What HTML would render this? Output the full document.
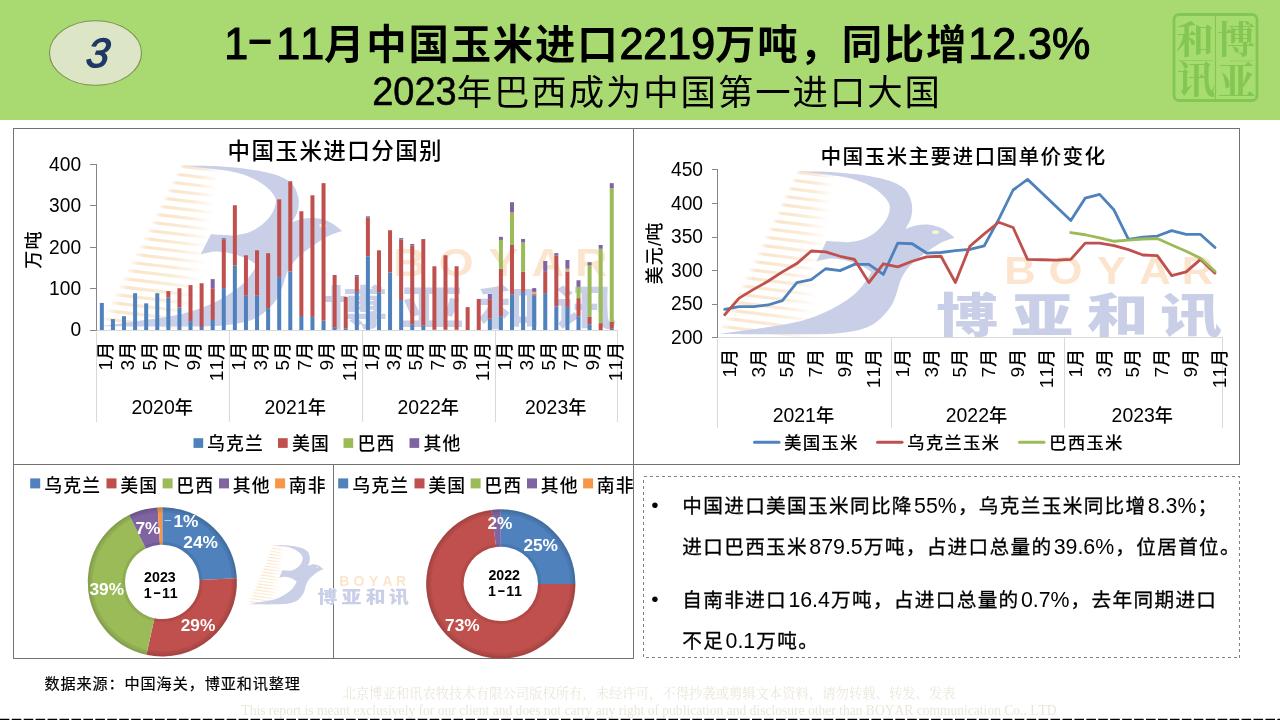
<!DOCTYPE html>
<html lang="zh-CN"><head><meta charset="utf-8"><title>1-11月中国玉米进口2219万吨，同比增12.3%</title>
<style>
html,body{margin:0;padding:0;background:#fff;}
body{font-kerning:none;font-variant-ligatures:none;width:1280px;height:720px;position:relative;overflow:hidden;font-family:"Liberation Sans","Noto Sans CJK SC",sans-serif;color:#000;}
.abs{position:absolute;white-space:nowrap;}
#hdr{left:0;top:0;width:1280px;height:120px;background:#A9DA72;}
#t1{left:276.2px;text-align:left;top:16px;font-size:40.4px;line-height:52px;font-weight:700;letter-spacing:1.8px;font-family:"Noto Sans CJK SC","Liberation Sans",sans-serif;}
#t1 .l{display:inline-block;position:relative;top:0px;font-family:"Liberation Sans",sans-serif;font-weight:400;font-size:43px;line-height:1;letter-spacing:0;transform:scaleY(1.045);transform-origin:0 84.65%;-webkit-text-stroke:1.1px #000;}
#t2{left:17px;width:1280px;text-align:center;top:67px;font-size:35.4px;line-height:46px;letter-spacing:1.93px;font-family:"Noto Sans CJK SC","Liberation Sans",sans-serif;}
#t2 .l{display:inline-block;font-family:"Liberation Sans",sans-serif;font-size:38px;line-height:1;letter-spacing:0;transform:scaleY(1.09);transform-origin:0 84.65%;-webkit-text-stroke:0.5px #000;}
#num{left:49px;top:20px;width:93px;height:66px;text-align:center;line-height:66px;font-size:41px;font-style:italic;font-weight:700;color:#1F3864;}
#chart{left:0;top:0;}
#box{left:643px;top:476px;width:596px;height:181px;box-sizing:border-box;}
#box ul{list-style:none;margin:0;padding:0;}
#box li{position:absolute;left:39.3px;font-size:20.9px;line-height:40.5px;white-space:nowrap;}
#box .n{font-size:21.33px;margin:0 1.1px 0 1.3px;letter-spacing:0;}
#box .c{letter-spacing:1.33px;}
.c{font-family:"Noto Sans CJK SC","Liberation Sans",sans-serif;font-size:0.94em;letter-spacing:0.06em;font-weight:400;-webkit-text-stroke:0.3px #000;}
#box .b{position:absolute;left:-31px;top:0;font-family:"Liberation Sans",sans-serif;font-size:20.9px;}
#src{left:44.5px;top:671px;font-size:16.08px;line-height:22px;}
#src .c{font-weight:400;-webkit-text-stroke:0.2px #000;}
#cp1{left:9px;width:1280px;text-align:center;top:685px;font-size:13.33px;line-height:18px;color:#EAE7DA;font-family:"Liberation Serif","Noto Serif CJK SC",serif;}
#cp2{left:9px;width:1280px;text-align:center;top:701px;font-size:13.55px;line-height:20px;color:#EAE7DA;font-family:"Liberation Serif","Noto Serif CJK SC",serif;}
.dash{display:inline-block;position:relative;top:-6px;font-family:"Liberation Sans",sans-serif;font-size:42.67px;line-height:1;letter-spacing:0;transform:scale(1.95,0.85);margin:0 9.4px 0 4.5px;}
</style></head><body>
<div id="hdr" class="abs"></div>
<div id="t1" class="abs"><span class="l" style="margin-left:-52px">1</span><span class="dash">-</span><span class="l">11</span>月中国玉米进口<span class="l">2219</span>万吨，同比增<span class="l">12.3%</span></div>
<div id="t2" class="abs"><span class="l">2023</span>年巴西成为中国第一进口大国</div>
<svg id="chart" class="abs" width="1280" height="720" viewBox="0 0 1280 720">
<defs>
<linearGradient id="wmst" x1="0" x2="1" y1="0" y2="0"><stop offset="0" stop-color="#F9DDBA" stop-opacity="0.2"/><stop offset="0.1" stop-color="#F9DDBA" stop-opacity="0.75"/><stop offset="0.55" stop-color="#F9DDBA" stop-opacity="0.6"/><stop offset="1" stop-color="#F9DDBA" stop-opacity="0"/></linearGradient>
<radialGradient id="bev" gradientUnits="objectBoundingBox" cx="0.5" cy="0.5" r="0.5"><stop offset="0.49" stop-color="#000" stop-opacity="0.10"/><stop offset="0.54" stop-color="#fff" stop-opacity="0.06"/><stop offset="0.75" stop-color="#fff" stop-opacity="0"/><stop offset="0.95" stop-color="#000" stop-opacity="0.02"/><stop offset="1" stop-color="#000" stop-opacity="0.16"/></radialGradient>
<symbol id="wm" viewBox="0 0 161 60" preserveAspectRatio="none" overflow="visible">
<g><rect x="25" y="-0.07" width="12.5" height="1.15" fill="url(#wmst)" transform="rotate(8 25 0.5)"/><rect x="23.74" y="2.88" width="13.39" height="1.15" fill="url(#wmst)" transform="rotate(8 23.74 3.45)"/><rect x="22.47" y="5.84" width="14.27" height="1.15" fill="url(#wmst)" transform="rotate(8 22.47 6.41)"/><rect x="21.21" y="8.79" width="15.16" height="1.15" fill="url(#wmst)" transform="rotate(8 21.21 9.36)"/><rect x="19.95" y="11.74" width="16.04" height="1.15" fill="url(#wmst)" transform="rotate(8 19.95 12.31)"/><rect x="18.68" y="14.69" width="16.93" height="1.15" fill="url(#wmst)" transform="rotate(8 18.68 15.26)"/><rect x="17.42" y="17.65" width="17.81" height="1.15" fill="url(#wmst)" transform="rotate(8 17.42 18.22)"/><rect x="16.16" y="20.6" width="18.7" height="1.15" fill="url(#wmst)" transform="rotate(8 16.16 21.17)"/><rect x="14.89" y="23.55" width="19.59" height="1.15" fill="url(#wmst)" transform="rotate(8 14.89 24.12)"/><rect x="13.63" y="26.5" width="20.47" height="1.15" fill="url(#wmst)" transform="rotate(8 13.63 27.07)"/><rect x="12.37" y="29.46" width="21.36" height="1.15" fill="url(#wmst)" transform="rotate(8 12.37 30.03)"/><rect x="11.11" y="32.41" width="22.24" height="1.15" fill="url(#wmst)" transform="rotate(8 11.11 32.98)"/><rect x="9.84" y="35.36" width="23.13" height="1.15" fill="url(#wmst)" transform="rotate(8 9.84 35.93)"/><rect x="8.58" y="38.31" width="24.02" height="1.15" fill="url(#wmst)" transform="rotate(8 8.58 38.88)"/><rect x="7.32" y="41.27" width="24.9" height="1.15" fill="url(#wmst)" transform="rotate(8 7.32 41.84)"/><rect x="6.05" y="44.22" width="25.79" height="1.15" fill="url(#wmst)" transform="rotate(8 6.05 44.79)"/><rect x="4.79" y="47.17" width="26.67" height="1.15" fill="url(#wmst)" transform="rotate(8 4.79 47.74)"/><rect x="3.53" y="50.12" width="27.56" height="1.15" fill="url(#wmst)" transform="rotate(8 3.53 50.69)"/><rect x="2.26" y="53.08" width="28.44" height="1.15" fill="url(#wmst)" transform="rotate(8 2.26 53.65)"/><rect x="1" y="56.03" width="29.33" height="1.15" fill="url(#wmst)" transform="rotate(8 1 56.6)"/></g>
<path d="M25.82,0.29 C27.45,0.31 32.53,0.24 35.58,0.4 C38.62,0.56 41.4,0.88 44.09,1.27 C46.78,1.66 49.61,2.16 51.74,2.73 C53.86,3.29 55.44,3.85 56.86,4.65 C58.27,5.46 59.42,6.28 60.25,7.56 C61.08,8.85 61.63,10.76 61.85,12.36 C62.06,13.97 61.86,15.75 61.53,17.2 C61.19,18.65 60.11,20.44 59.83,21.09 C60.4,20.88 61.95,20.1 63.22,19.85 C64.5,19.61 66.06,19.43 67.48,19.64 C68.89,19.84 70.36,20.3 71.7,21.09 C73.05,21.88 74.9,23.82 75.54,24.36 C74.9,24.62 73.05,25.15 71.7,25.89 C70.36,26.63 69.08,27.53 67.48,28.8 C65.88,30.07 63.57,31.87 62.1,33.53 C60.63,35.18 59.51,36.88 58.65,38.73 C57.78,40.58 57.5,42.87 56.92,44.62 C56.34,46.36 56.06,47.67 55.19,49.2 C54.33,50.73 53.07,52.47 51.74,53.78 C50.4,55.09 49.27,56.19 47.16,57.05 C45.05,57.92 42.36,58.58 39.1,58.98 C35.83,59.38 34.1,59.39 27.58,59.45 C21.06,59.52 4.6,59.36 0,59.35 C1.73,59.07 6.72,58.31 10.37,57.71 C14.01,57.11 18.5,56.51 21.85,55.75 C25.2,54.98 27.78,54.22 30.46,53.13 C33.14,52.04 35.74,50.62 37.95,49.2 C40.15,47.78 42.17,46.14 43.71,44.62 C45.24,43.1 46.3,41.38 47.16,40.07 C48.02,38.77 48.57,37.35 48.86,36.8 C48.36,36.44 47.12,35.28 45.88,34.62 C44.64,33.95 43,33.25 41.4,32.8 C39.8,32.35 37.96,31.88 36.28,31.89 C34.6,31.9 32.15,32.71 31.32,32.87 L34.52,25.53 C35.06,25.56 36.48,25.68 37.72,25.75 C38.96,25.81 40.49,26.07 41.98,25.89 C43.47,25.72 45.24,25.33 46.65,24.69 C48.06,24.05 49.33,23.12 50.46,22.04 C51.59,20.95 52.72,19.47 53.43,18.18 C54.14,16.9 54.57,15.45 54.71,14.33 C54.86,13.2 54.79,12.47 54.3,11.42 C53.8,10.37 52.87,9.12 51.74,8.04 C50.6,6.95 49.11,5.79 47.48,4.91 C45.85,4.02 43.96,3.29 41.98,2.73 C39.99,2.16 38.27,1.93 35.58,1.53 C32.89,1.12 27.45,0.5 25.82,0.29 Z" fill="#C8CFE7"/>
<ellipse cx="69.4" cy="22.3" rx="1.1" ry="0.7" fill="#F3F6D0"/>
<g transform="scale(0.14843) translate(-80,-100)">
<text y="376.7" x="695.8 791.4 895.9 986.8 1078.4" font-family='"Liberation Sans",sans-serif' font-weight="700" font-size="94" fill="#FBE5CE">BOYAR</text>
<g transform="scale(1.17,1)"><text y="495.5" x="469.23 607.35 746.67 881.45" font-family='"Noto Sans CJK SC","Liberation Sans",sans-serif' font-weight="900" font-size="114" fill="#C8CFE7">博亚和讯</text></g>
</g></symbol>
</defs>
<ellipse cx="95.5" cy="53" rx="46" ry="32.3" fill="#DCE6C7" stroke="#7F9050" stroke-width="1.1"/>
<text transform="translate(96.3,67.3) skewX(-8)" text-anchor="middle" font-family='"Liberation Sans",sans-serif' font-style="italic" font-weight="400" font-size="41" fill="#1F3864" stroke="#1F3864" stroke-width="1.3" stroke-linejoin="round">3</text>
<g>
<rect x="1174" y="14.5" width="83" height="86" rx="5" ry="5" fill="#A6E070" fill-opacity="0.55" stroke="#84C653" stroke-width="2.8"/>
<path d="M1215.5,15 V100" stroke="#84C653" stroke-width="1.2" fill="none"/>
<path d="M1178,60.5 H1213 M1230,61 H1253" stroke="#84C653" stroke-width="0.8" fill="none" opacity="0.8"/>
<g font-family='"Noto Serif CJK SC","Liberation Serif",serif' font-weight="700" font-size="38" fill="#84C653" text-anchor="middle">
<text x="1195" y="53">和</text><text x="1196" y="92.5">讯</text><text x="1236" y="53">博</text><text x="1236.5" y="93.5">亚</text>
</g></g>
<g fill="none" stroke="#727272" stroke-width="1" shape-rendering="crispEdges">
<rect x="13.5" y="128.5" width="1226" height="336"/>
<path d="M633.5,128.5 V658.5 M13.5,464.5 V658.5 H633.5 M333.5,464.5 V658.5"/>
<rect x="643.5" y="476.5" width="596" height="181" stroke="#808080" stroke-dasharray="3 3"/>
</g>
<use href="#wm" x="100.3" y="164.9" width="516" height="163"/>
<rect x="99.84" y="302.94" width="4" height="27.36" fill="#4F81BD"/>
<rect x="110.93" y="319.11" width="4" height="11.19" fill="#4F81BD"/>
<rect x="122.01" y="316.21" width="4" height="14.09" fill="#4F81BD"/>
<rect x="133.1" y="293.2" width="4" height="37.1" fill="#4F81BD"/>
<rect x="144.18" y="303.36" width="4" height="26.94" fill="#4F81BD"/>
<rect x="155.27" y="293.2" width="4" height="37.1" fill="#4F81BD"/>
<rect x="166.35" y="297.55" width="4" height="32.75" fill="#4F81BD"/>
<rect x="166.35" y="291.09" width="4" height="6.47" fill="#C0504D"/>
<rect x="177.44" y="307.5" width="4" height="22.8" fill="#4F81BD"/>
<rect x="177.44" y="288.23" width="4" height="19.27" fill="#C0504D"/>
<rect x="188.52" y="321.18" width="4" height="9.12" fill="#4F81BD"/>
<rect x="188.52" y="285.12" width="4" height="36.06" fill="#C0504D"/>
<rect x="199.61" y="326.98" width="4" height="3.32" fill="#4F81BD"/>
<rect x="199.61" y="283.25" width="4" height="43.73" fill="#C0504D"/>
<rect x="210.69" y="319.94" width="4" height="10.36" fill="#4F81BD"/>
<rect x="210.69" y="288.23" width="4" height="31.71" fill="#C0504D"/>
<rect x="210.69" y="279.11" width="4" height="9.12" fill="#8064A2"/>
<rect x="221.78" y="288.1" width="4" height="42.2" fill="#4F81BD"/>
<rect x="221.78" y="239.52" width="4" height="48.58" fill="#C0504D"/>
<rect x="221.78" y="238.12" width="4" height="1.41" fill="#8064A2"/>
<rect x="232.86" y="265.64" width="4" height="64.66" fill="#4F81BD"/>
<rect x="232.86" y="205.25" width="4" height="60.39" fill="#C0504D"/>
<rect x="243.95" y="295.61" width="4" height="34.69" fill="#4F81BD"/>
<rect x="243.95" y="255.28" width="4" height="40.33" fill="#C0504D"/>
<rect x="255.03" y="295.61" width="4" height="34.69" fill="#4F81BD"/>
<rect x="255.03" y="250.3" width="4" height="45.3" fill="#C0504D"/>
<rect x="266.12" y="308.12" width="4" height="22.18" fill="#4F81BD"/>
<rect x="266.12" y="253.2" width="4" height="54.92" fill="#C0504D"/>
<rect x="277.2" y="276.83" width="4" height="53.47" fill="#4F81BD"/>
<rect x="277.2" y="199.36" width="4" height="77.47" fill="#C0504D"/>
<rect x="288.29" y="271.44" width="4" height="58.86" fill="#4F81BD"/>
<rect x="288.29" y="181.25" width="4" height="90.2" fill="#C0504D"/>
<rect x="299.37" y="316" width="4" height="14.3" fill="#4F81BD"/>
<rect x="299.37" y="211.26" width="4" height="104.74" fill="#C0504D"/>
<rect x="310.46" y="316.87" width="4" height="13.43" fill="#4F81BD"/>
<rect x="310.46" y="195.26" width="4" height="121.61" fill="#C0504D"/>
<rect x="321.54" y="320.64" width="4" height="9.66" fill="#4F81BD"/>
<rect x="321.54" y="183.15" width="4" height="137.49" fill="#C0504D"/>
<rect x="332.63" y="327.48" width="4" height="2.82" fill="#4F81BD"/>
<rect x="332.63" y="275.01" width="4" height="52.48" fill="#C0504D"/>
<rect x="343.71" y="328.23" width="4" height="2.07" fill="#4F81BD"/>
<rect x="343.71" y="296.89" width="4" height="31.34" fill="#C0504D"/>
<rect x="354.8" y="291.88" width="4" height="38.42" fill="#4F81BD"/>
<rect x="354.8" y="276.83" width="4" height="15.05" fill="#C0504D"/>
<rect x="354.8" y="275.01" width="4" height="1.82" fill="#8064A2"/>
<rect x="365.89" y="256.27" width="4" height="74.03" fill="#4F81BD"/>
<rect x="365.89" y="217.56" width="4" height="38.71" fill="#C0504D"/>
<rect x="365.89" y="216.31" width="4" height="1.24" fill="#8064A2"/>
<rect x="376.97" y="292.25" width="4" height="38.05" fill="#4F81BD"/>
<rect x="376.97" y="250.3" width="4" height="41.95" fill="#C0504D"/>
<rect x="388.06" y="272.52" width="4" height="57.78" fill="#4F81BD"/>
<rect x="388.06" y="230.24" width="4" height="42.28" fill="#C0504D"/>
<rect x="399.14" y="300.04" width="4" height="30.26" fill="#4F81BD"/>
<rect x="399.14" y="239.52" width="4" height="60.52" fill="#C0504D"/>
<rect x="399.14" y="238.12" width="4" height="1.41" fill="#8064A2"/>
<rect x="410.23" y="324.37" width="4" height="5.93" fill="#4F81BD"/>
<rect x="410.23" y="245.33" width="4" height="79.05" fill="#C0504D"/>
<rect x="410.23" y="244" width="4" height="1.33" fill="#8064A2"/>
<rect x="421.31" y="325.62" width="4" height="4.68" fill="#4F81BD"/>
<rect x="421.31" y="239.94" width="4" height="85.68" fill="#C0504D"/>
<rect x="421.31" y="238.99" width="4" height="0.95" fill="#8064A2"/>
<rect x="432.4" y="329.68" width="4" height="0.62" fill="#4F81BD"/>
<rect x="432.4" y="266.26" width="4" height="63.42" fill="#C0504D"/>
<rect x="443.48" y="329.68" width="4" height="0.62" fill="#4F81BD"/>
<rect x="443.48" y="255.28" width="4" height="74.4" fill="#C0504D"/>
<rect x="454.57" y="329.68" width="4" height="0.62" fill="#4F81BD"/>
<rect x="454.57" y="266.26" width="4" height="63.42" fill="#C0504D"/>
<rect x="465.65" y="307.13" width="4" height="23.17" fill="#C0504D"/>
<rect x="476.74" y="299.01" width="4" height="31.29" fill="#C0504D"/>
<rect x="487.82" y="318.74" width="4" height="11.56" fill="#4F81BD"/>
<rect x="487.82" y="299.21" width="4" height="19.52" fill="#C0504D"/>
<rect x="487.82" y="293.99" width="4" height="5.22" fill="#8064A2"/>
<rect x="498.91" y="316.21" width="4" height="14.09" fill="#4F81BD"/>
<rect x="498.91" y="268.75" width="4" height="47.46" fill="#C0504D"/>
<rect x="498.91" y="239.94" width="4" height="28.81" fill="#9BBB59"/>
<rect x="498.91" y="236.87" width="4" height="3.07" fill="#8064A2"/>
<rect x="509.99" y="294.36" width="4" height="35.94" fill="#4F81BD"/>
<rect x="509.99" y="245" width="4" height="49.37" fill="#C0504D"/>
<rect x="509.99" y="212.58" width="4" height="32.41" fill="#9BBB59"/>
<rect x="509.99" y="202.22" width="4" height="10.36" fill="#8064A2"/>
<rect x="521.08" y="291.88" width="4" height="38.42" fill="#4F81BD"/>
<rect x="521.08" y="271.86" width="4" height="20.02" fill="#C0504D"/>
<rect x="521.08" y="242.51" width="4" height="29.35" fill="#9BBB59"/>
<rect x="521.08" y="238.99" width="4" height="3.52" fill="#8064A2"/>
<rect x="532.16" y="295.48" width="4" height="34.82" fill="#4F81BD"/>
<rect x="532.16" y="294.24" width="4" height="1.24" fill="#C0504D"/>
<rect x="532.16" y="291.88" width="4" height="2.36" fill="#D9B57A"/>
<rect x="532.16" y="288.1" width="4" height="3.77" fill="#8064A2"/>
<rect x="543.25" y="293.12" width="4" height="37.18" fill="#4F81BD"/>
<rect x="543.25" y="271.86" width="4" height="21.26" fill="#C0504D"/>
<rect x="543.25" y="261" width="4" height="10.86" fill="#8064A2"/>
<rect x="554.33" y="306.26" width="4" height="24.04" fill="#4F81BD"/>
<rect x="554.33" y="255.69" width="4" height="50.57" fill="#C0504D"/>
<rect x="554.33" y="253.12" width="4" height="2.57" fill="#8064A2"/>
<rect x="565.42" y="306.88" width="4" height="23.42" fill="#4F81BD"/>
<rect x="565.42" y="271.48" width="4" height="35.4" fill="#C0504D"/>
<rect x="565.42" y="268.75" width="4" height="2.74" fill="#D9B57A"/>
<rect x="565.42" y="260" width="4" height="8.75" fill="#8064A2"/>
<rect x="576.5" y="316.21" width="4" height="14.09" fill="#4F81BD"/>
<rect x="576.5" y="298.13" width="4" height="18.07" fill="#C0504D"/>
<rect x="576.5" y="286.86" width="4" height="11.27" fill="#9BBB59"/>
<rect x="576.5" y="280.27" width="4" height="6.59" fill="#8064A2"/>
<rect x="587.59" y="324.37" width="4" height="5.93" fill="#4F81BD"/>
<rect x="587.59" y="316.87" width="4" height="7.5" fill="#C0504D"/>
<rect x="587.59" y="265.02" width="4" height="51.85" fill="#9BBB59"/>
<rect x="587.59" y="262.24" width="4" height="2.78" fill="#8064A2"/>
<rect x="598.67" y="323.13" width="4" height="7.17" fill="#C0504D"/>
<rect x="598.67" y="248.77" width="4" height="74.36" fill="#9BBB59"/>
<rect x="598.67" y="245" width="4" height="3.77" fill="#8064A2"/>
<rect x="609.76" y="328.77" width="4" height="1.53" fill="#4F81BD"/>
<rect x="609.76" y="321.89" width="4" height="6.88" fill="#C0504D"/>
<rect x="609.76" y="188.13" width="4" height="133.76" fill="#9BBB59"/>
<rect x="609.76" y="183.15" width="4" height="4.97" fill="#8064A2"/>
<g stroke="#868686" stroke-width="1" fill="none" shape-rendering="crispEdges">
<path d="M96.5,164.5 V330.5 M90,164.5 H96.5 M90,205.5 H96.5 M90,247.5 H96.5 M90,288.5 H96.5 M90,330.5 H96.5"/>
</g>
<g stroke="#D9D9D9" stroke-width="1" fill="none" shape-rendering="crispEdges">
<path d="M96.5,330.5 H617.5 M229.5,330.5 V421.5 M362.5,330.5 V421.5 M495.5,330.5 V421.5 M617.5,330.5 V421.5 M96.5,331.5 V421.5"/>
</g>
<g font-family='"Liberation Sans",sans-serif' font-size="19.2" fill="#000" text-anchor="end">
<text transform="translate(81.1,170.6) scale(1,1.07)">400</text>
<text transform="translate(81.1,212) scale(1,1.07)">300</text>
<text transform="translate(81.1,253.5) scale(1,1.07)">200</text>
<text transform="translate(81.1,295) scale(1,1.07)">100</text>
<text transform="translate(81.1,336.4) scale(1,1.07)">0</text>
</g>
<text transform="translate(40.2,249.5) rotate(-90)" text-anchor="middle" fill="#000"><tspan font-family='"Noto Sans CJK SC","Liberation Sans",sans-serif' font-weight="500" font-size="18.05" letter-spacing="1.15">万吨</tspan></text>
<g font-family='"Liberation Sans","Noto Sans CJK SC",sans-serif' font-size="18.67" fill="#000" text-anchor="end">
<text transform="translate(111.74,340.7) rotate(-90)"><tspan font-family='"Liberation Sans",sans-serif' font-size="19.2">1</tspan><tspan font-family='"Noto Sans CJK SC","Liberation Sans",sans-serif' font-weight="500" font-size="18.05" letter-spacing="1.15">月</tspan></text>
<text transform="translate(133.91,340.7) rotate(-90)"><tspan font-family='"Liberation Sans",sans-serif' font-size="19.2">3</tspan><tspan font-family='"Noto Sans CJK SC","Liberation Sans",sans-serif' font-weight="500" font-size="18.05" letter-spacing="1.15">月</tspan></text>
<text transform="translate(156.08,340.7) rotate(-90)"><tspan font-family='"Liberation Sans",sans-serif' font-size="19.2">5</tspan><tspan font-family='"Noto Sans CJK SC","Liberation Sans",sans-serif' font-weight="500" font-size="18.05" letter-spacing="1.15">月</tspan></text>
<text transform="translate(178.25,340.7) rotate(-90)"><tspan font-family='"Liberation Sans",sans-serif' font-size="19.2">7</tspan><tspan font-family='"Noto Sans CJK SC","Liberation Sans",sans-serif' font-weight="500" font-size="18.05" letter-spacing="1.15">月</tspan></text>
<text transform="translate(200.42,340.7) rotate(-90)"><tspan font-family='"Liberation Sans",sans-serif' font-size="19.2">9</tspan><tspan font-family='"Noto Sans CJK SC","Liberation Sans",sans-serif' font-weight="500" font-size="18.05" letter-spacing="1.15">月</tspan></text>
<text transform="translate(222.59,340.7) rotate(-90)"><tspan font-family='"Liberation Sans",sans-serif' font-size="19.2">11</tspan><tspan font-family='"Noto Sans CJK SC","Liberation Sans",sans-serif' font-weight="500" font-size="18.05" letter-spacing="1.15">月</tspan></text>
<text transform="translate(244.76,340.7) rotate(-90)"><tspan font-family='"Liberation Sans",sans-serif' font-size="19.2">1</tspan><tspan font-family='"Noto Sans CJK SC","Liberation Sans",sans-serif' font-weight="500" font-size="18.05" letter-spacing="1.15">月</tspan></text>
<text transform="translate(266.93,340.7) rotate(-90)"><tspan font-family='"Liberation Sans",sans-serif' font-size="19.2">3</tspan><tspan font-family='"Noto Sans CJK SC","Liberation Sans",sans-serif' font-weight="500" font-size="18.05" letter-spacing="1.15">月</tspan></text>
<text transform="translate(289.1,340.7) rotate(-90)"><tspan font-family='"Liberation Sans",sans-serif' font-size="19.2">5</tspan><tspan font-family='"Noto Sans CJK SC","Liberation Sans",sans-serif' font-weight="500" font-size="18.05" letter-spacing="1.15">月</tspan></text>
<text transform="translate(311.27,340.7) rotate(-90)"><tspan font-family='"Liberation Sans",sans-serif' font-size="19.2">7</tspan><tspan font-family='"Noto Sans CJK SC","Liberation Sans",sans-serif' font-weight="500" font-size="18.05" letter-spacing="1.15">月</tspan></text>
<text transform="translate(333.44,340.7) rotate(-90)"><tspan font-family='"Liberation Sans",sans-serif' font-size="19.2">9</tspan><tspan font-family='"Noto Sans CJK SC","Liberation Sans",sans-serif' font-weight="500" font-size="18.05" letter-spacing="1.15">月</tspan></text>
<text transform="translate(355.61,340.7) rotate(-90)"><tspan font-family='"Liberation Sans",sans-serif' font-size="19.2">11</tspan><tspan font-family='"Noto Sans CJK SC","Liberation Sans",sans-serif' font-weight="500" font-size="18.05" letter-spacing="1.15">月</tspan></text>
<text transform="translate(377.79,340.7) rotate(-90)"><tspan font-family='"Liberation Sans",sans-serif' font-size="19.2">1</tspan><tspan font-family='"Noto Sans CJK SC","Liberation Sans",sans-serif' font-weight="500" font-size="18.05" letter-spacing="1.15">月</tspan></text>
<text transform="translate(399.96,340.7) rotate(-90)"><tspan font-family='"Liberation Sans",sans-serif' font-size="19.2">3</tspan><tspan font-family='"Noto Sans CJK SC","Liberation Sans",sans-serif' font-weight="500" font-size="18.05" letter-spacing="1.15">月</tspan></text>
<text transform="translate(422.13,340.7) rotate(-90)"><tspan font-family='"Liberation Sans",sans-serif' font-size="19.2">5</tspan><tspan font-family='"Noto Sans CJK SC","Liberation Sans",sans-serif' font-weight="500" font-size="18.05" letter-spacing="1.15">月</tspan></text>
<text transform="translate(444.3,340.7) rotate(-90)"><tspan font-family='"Liberation Sans",sans-serif' font-size="19.2">7</tspan><tspan font-family='"Noto Sans CJK SC","Liberation Sans",sans-serif' font-weight="500" font-size="18.05" letter-spacing="1.15">月</tspan></text>
<text transform="translate(466.47,340.7) rotate(-90)"><tspan font-family='"Liberation Sans",sans-serif' font-size="19.2">9</tspan><tspan font-family='"Noto Sans CJK SC","Liberation Sans",sans-serif' font-weight="500" font-size="18.05" letter-spacing="1.15">月</tspan></text>
<text transform="translate(488.64,340.7) rotate(-90)"><tspan font-family='"Liberation Sans",sans-serif' font-size="19.2">11</tspan><tspan font-family='"Noto Sans CJK SC","Liberation Sans",sans-serif' font-weight="500" font-size="18.05" letter-spacing="1.15">月</tspan></text>
<text transform="translate(510.81,340.7) rotate(-90)"><tspan font-family='"Liberation Sans",sans-serif' font-size="19.2">1</tspan><tspan font-family='"Noto Sans CJK SC","Liberation Sans",sans-serif' font-weight="500" font-size="18.05" letter-spacing="1.15">月</tspan></text>
<text transform="translate(532.98,340.7) rotate(-90)"><tspan font-family='"Liberation Sans",sans-serif' font-size="19.2">3</tspan><tspan font-family='"Noto Sans CJK SC","Liberation Sans",sans-serif' font-weight="500" font-size="18.05" letter-spacing="1.15">月</tspan></text>
<text transform="translate(555.15,340.7) rotate(-90)"><tspan font-family='"Liberation Sans",sans-serif' font-size="19.2">5</tspan><tspan font-family='"Noto Sans CJK SC","Liberation Sans",sans-serif' font-weight="500" font-size="18.05" letter-spacing="1.15">月</tspan></text>
<text transform="translate(577.32,340.7) rotate(-90)"><tspan font-family='"Liberation Sans",sans-serif' font-size="19.2">7</tspan><tspan font-family='"Noto Sans CJK SC","Liberation Sans",sans-serif' font-weight="500" font-size="18.05" letter-spacing="1.15">月</tspan></text>
<text transform="translate(599.49,340.7) rotate(-90)"><tspan font-family='"Liberation Sans",sans-serif' font-size="19.2">9</tspan><tspan font-family='"Noto Sans CJK SC","Liberation Sans",sans-serif' font-weight="500" font-size="18.05" letter-spacing="1.15">月</tspan></text>
<text transform="translate(621.66,340.7) rotate(-90)"><tspan font-family='"Liberation Sans",sans-serif' font-size="19.2">11</tspan><tspan font-family='"Noto Sans CJK SC","Liberation Sans",sans-serif' font-weight="500" font-size="18.05" letter-spacing="1.15">月</tspan></text>
</g>
<g font-family='"Liberation Sans","Noto Sans CJK SC",sans-serif' font-size="19.4" fill="#000" text-anchor="middle">
<text x="162.81" y="413.5"><tspan font-family='"Liberation Sans",sans-serif' font-size="19.4">2020</tspan><tspan font-family='"Noto Sans CJK SC","Liberation Sans",sans-serif' font-weight="500" font-size="18.24" letter-spacing="1.16">年</tspan></text>
<text x="295.83" y="413.5"><tspan font-family='"Liberation Sans",sans-serif' font-size="19.4">2021</tspan><tspan font-family='"Noto Sans CJK SC","Liberation Sans",sans-serif' font-weight="500" font-size="18.24" letter-spacing="1.16">年</tspan></text>
<text x="428.85" y="413.5"><tspan font-family='"Liberation Sans",sans-serif' font-size="19.4">2022</tspan><tspan font-family='"Noto Sans CJK SC","Liberation Sans",sans-serif' font-weight="500" font-size="18.24" letter-spacing="1.16">年</tspan></text>
<text x="556.33" y="413.5"><tspan font-family='"Liberation Sans",sans-serif' font-size="19.4">2023</tspan><tspan font-family='"Noto Sans CJK SC","Liberation Sans",sans-serif' font-weight="500" font-size="18.24" letter-spacing="1.16">年</tspan></text>
</g>
<text x="335.3" y="158.7" text-anchor="middle" fill="#000"><tspan font-family='"Noto Sans CJK SC","Liberation Sans",sans-serif' font-weight="500" font-size="22.51" letter-spacing="1.44">中国玉米进口分国别</tspan></text>
<g font-family='"Liberation Sans","Noto Sans CJK SC",sans-serif' font-size="18.67" fill="#000">
<rect x="193.5" y="438.2" width="9.7" height="9.7" fill="#4F81BD"/>
<text x="207" y="449.6"><tspan font-family='"Noto Sans CJK SC","Liberation Sans",sans-serif' font-weight="500" font-size="17.86" letter-spacing="1.14">乌克兰</tspan></text>
<rect x="278" y="438.2" width="9.7" height="9.7" fill="#C0504D"/>
<text x="292" y="449.6"><tspan font-family='"Noto Sans CJK SC","Liberation Sans",sans-serif' font-weight="500" font-size="17.86" letter-spacing="1.14">美国</tspan></text>
<rect x="343.5" y="438.2" width="9.7" height="9.7" fill="#9BBB59"/>
<text x="357.5" y="449.6"><tspan font-family='"Noto Sans CJK SC","Liberation Sans",sans-serif' font-weight="500" font-size="17.86" letter-spacing="1.14">巴西</tspan></text>
<rect x="409.5" y="438.2" width="9.7" height="9.7" fill="#8064A2"/>
<text x="423.5" y="449.6"><tspan font-family='"Noto Sans CJK SC","Liberation Sans",sans-serif' font-weight="500" font-size="17.86" letter-spacing="1.14">其他</tspan></text>
</g>
<use href="#wm" x="718.6" y="170.8" width="503.2" height="165"/>
<g stroke="#868686" stroke-width="1" fill="none" shape-rendering="crispEdges">
<path d="M717.5,169.5 V337.5 M712,169.5 H717.5 M712,203.5 H717.5 M712,237.5 H717.5 M712,270.5 H717.5 M712,304.5 H717.5 M712,337.5 H717.5"/>
</g>
<g stroke="#D9D9D9" stroke-width="1" fill="none" shape-rendering="crispEdges">
<path d="M717.5,337.5 H1222.5 M891.5,337.5 V427.5 M1064.5,337.5 V427.5 M1222.5,337.5 V427.5 M717.5,338.5 V427.5"/>
</g>
<polyline points="724.71,309.41 739.13,306.59 753.55,306.59 767.97,304.98 782.39,300.54 796.81,282.73 811.23,279.71 825.65,268.75 840.07,270.64 854.49,264.39 868.91,264.39 883.33,274.4 897.75,243.15 912.17,243.76 926.59,253.03 941.01,252.49 955.43,250.61 969.85,249.47 984.27,245.77 998.69,219.36 1013.11,190 1027.53,179.38 1041.95,193.09 1056.37,206.86 1070.79,220.57 1085.21,198.13 1099.63,194.36 1114.05,210.02 1128.47,239.39 1142.89,237.24 1157.31,236.03 1171.73,230.65 1186.15,234.42 1200.57,234.42 1214.99,247.52" fill="none" stroke="#4F81BD" stroke-width="2.8" stroke-linejoin="round" stroke-linecap="round"/>
<polyline points="724.71,314.72 739.13,298.12 753.55,289.38 767.97,281.25 782.39,271.91 796.81,263.58 811.23,251.01 825.65,251.89 840.07,256.26 854.49,259.41 868.91,282.53 883.33,263.78 897.75,266.87 912.17,261.23 926.59,256.86 941.01,256.26 955.43,282.53 969.85,246.24 984.27,233.88 998.69,222.25 1013.11,227.49 1027.53,259.41 1041.95,259.75 1056.37,260.22 1070.79,259.41 1085.21,243.15 1099.63,243.15 1114.05,245.64 1128.47,249.67 1142.89,254.98 1157.31,255.65 1171.73,275.68 1186.15,271.91 1200.57,259.41 1214.99,273.12" fill="none" stroke="#C0504D" stroke-width="2.8" stroke-linejoin="round" stroke-linecap="round"/>
<polyline points="1070.79,232.53 1085.21,234.75 1099.63,237.78 1114.05,241.27 1128.47,240.06 1142.89,238.98 1157.31,238.51 1171.73,245.03 1186.15,251.28 1200.57,258.2 1214.99,271.24" fill="none" stroke="#9BBB59" stroke-width="2.8" stroke-linejoin="round" stroke-linecap="round"/>
<g font-family='"Liberation Sans",sans-serif' font-size="19.2" fill="#000" text-anchor="end">
<text transform="translate(703,176) scale(1,1.07)">450</text>
<text transform="translate(703,209.6) scale(1,1.07)">400</text>
<text transform="translate(703,243.2) scale(1,1.07)">350</text>
<text transform="translate(703,276.8) scale(1,1.07)">300</text>
<text transform="translate(703,310.4) scale(1,1.07)">250</text>
<text transform="translate(703,344) scale(1,1.07)">200</text>
</g>
<text transform="translate(661,253) rotate(-90)" text-anchor="middle" fill="#000"><tspan font-family='"Noto Sans CJK SC","Liberation Sans",sans-serif' font-weight="500" font-size="18.05" letter-spacing="1.15">美元</tspan><tspan font-family='"Liberation Sans",sans-serif' font-size="19.2">/</tspan><tspan font-family='"Noto Sans CJK SC","Liberation Sans",sans-serif' font-weight="500" font-size="18.05" letter-spacing="1.15">吨</tspan></text>
<g font-family='"Liberation Sans","Noto Sans CJK SC",sans-serif' font-size="18.67" fill="#000" text-anchor="end">
<text transform="translate(735.71,347.7) rotate(-90)"><tspan font-family='"Liberation Sans",sans-serif' font-size="19.2">1</tspan><tspan font-family='"Noto Sans CJK SC","Liberation Sans",sans-serif' font-weight="500" font-size="18.05" letter-spacing="1.15">月</tspan></text>
<text transform="translate(764.55,347.7) rotate(-90)"><tspan font-family='"Liberation Sans",sans-serif' font-size="19.2">3</tspan><tspan font-family='"Noto Sans CJK SC","Liberation Sans",sans-serif' font-weight="500" font-size="18.05" letter-spacing="1.15">月</tspan></text>
<text transform="translate(793.39,347.7) rotate(-90)"><tspan font-family='"Liberation Sans",sans-serif' font-size="19.2">5</tspan><tspan font-family='"Noto Sans CJK SC","Liberation Sans",sans-serif' font-weight="500" font-size="18.05" letter-spacing="1.15">月</tspan></text>
<text transform="translate(822.23,347.7) rotate(-90)"><tspan font-family='"Liberation Sans",sans-serif' font-size="19.2">7</tspan><tspan font-family='"Noto Sans CJK SC","Liberation Sans",sans-serif' font-weight="500" font-size="18.05" letter-spacing="1.15">月</tspan></text>
<text transform="translate(851.07,347.7) rotate(-90)"><tspan font-family='"Liberation Sans",sans-serif' font-size="19.2">9</tspan><tspan font-family='"Noto Sans CJK SC","Liberation Sans",sans-serif' font-weight="500" font-size="18.05" letter-spacing="1.15">月</tspan></text>
<text transform="translate(879.91,347.7) rotate(-90)"><tspan font-family='"Liberation Sans",sans-serif' font-size="19.2">11</tspan><tspan font-family='"Noto Sans CJK SC","Liberation Sans",sans-serif' font-weight="500" font-size="18.05" letter-spacing="1.15">月</tspan></text>
<text transform="translate(908.75,347.7) rotate(-90)"><tspan font-family='"Liberation Sans",sans-serif' font-size="19.2">1</tspan><tspan font-family='"Noto Sans CJK SC","Liberation Sans",sans-serif' font-weight="500" font-size="18.05" letter-spacing="1.15">月</tspan></text>
<text transform="translate(937.59,347.7) rotate(-90)"><tspan font-family='"Liberation Sans",sans-serif' font-size="19.2">3</tspan><tspan font-family='"Noto Sans CJK SC","Liberation Sans",sans-serif' font-weight="500" font-size="18.05" letter-spacing="1.15">月</tspan></text>
<text transform="translate(966.43,347.7) rotate(-90)"><tspan font-family='"Liberation Sans",sans-serif' font-size="19.2">5</tspan><tspan font-family='"Noto Sans CJK SC","Liberation Sans",sans-serif' font-weight="500" font-size="18.05" letter-spacing="1.15">月</tspan></text>
<text transform="translate(995.27,347.7) rotate(-90)"><tspan font-family='"Liberation Sans",sans-serif' font-size="19.2">7</tspan><tspan font-family='"Noto Sans CJK SC","Liberation Sans",sans-serif' font-weight="500" font-size="18.05" letter-spacing="1.15">月</tspan></text>
<text transform="translate(1024.11,347.7) rotate(-90)"><tspan font-family='"Liberation Sans",sans-serif' font-size="19.2">9</tspan><tspan font-family='"Noto Sans CJK SC","Liberation Sans",sans-serif' font-weight="500" font-size="18.05" letter-spacing="1.15">月</tspan></text>
<text transform="translate(1052.95,347.7) rotate(-90)"><tspan font-family='"Liberation Sans",sans-serif' font-size="19.2">11</tspan><tspan font-family='"Noto Sans CJK SC","Liberation Sans",sans-serif' font-weight="500" font-size="18.05" letter-spacing="1.15">月</tspan></text>
<text transform="translate(1081.79,347.7) rotate(-90)"><tspan font-family='"Liberation Sans",sans-serif' font-size="19.2">1</tspan><tspan font-family='"Noto Sans CJK SC","Liberation Sans",sans-serif' font-weight="500" font-size="18.05" letter-spacing="1.15">月</tspan></text>
<text transform="translate(1110.63,347.7) rotate(-90)"><tspan font-family='"Liberation Sans",sans-serif' font-size="19.2">3</tspan><tspan font-family='"Noto Sans CJK SC","Liberation Sans",sans-serif' font-weight="500" font-size="18.05" letter-spacing="1.15">月</tspan></text>
<text transform="translate(1139.47,347.7) rotate(-90)"><tspan font-family='"Liberation Sans",sans-serif' font-size="19.2">5</tspan><tspan font-family='"Noto Sans CJK SC","Liberation Sans",sans-serif' font-weight="500" font-size="18.05" letter-spacing="1.15">月</tspan></text>
<text transform="translate(1168.31,347.7) rotate(-90)"><tspan font-family='"Liberation Sans",sans-serif' font-size="19.2">7</tspan><tspan font-family='"Noto Sans CJK SC","Liberation Sans",sans-serif' font-weight="500" font-size="18.05" letter-spacing="1.15">月</tspan></text>
<text transform="translate(1197.15,347.7) rotate(-90)"><tspan font-family='"Liberation Sans",sans-serif' font-size="19.2">9</tspan><tspan font-family='"Noto Sans CJK SC","Liberation Sans",sans-serif' font-weight="500" font-size="18.05" letter-spacing="1.15">月</tspan></text>
<text transform="translate(1225.99,347.7) rotate(-90)"><tspan font-family='"Liberation Sans",sans-serif' font-size="19.2">11</tspan><tspan font-family='"Noto Sans CJK SC","Liberation Sans",sans-serif' font-weight="500" font-size="18.05" letter-spacing="1.15">月</tspan></text>
</g>
<g font-family='"Liberation Sans","Noto Sans CJK SC",sans-serif' font-size="19.4" fill="#000" text-anchor="middle">
<text x="804.02" y="421.5"><tspan font-family='"Liberation Sans",sans-serif' font-size="19.4">2021</tspan><tspan font-family='"Noto Sans CJK SC","Liberation Sans",sans-serif' font-weight="500" font-size="18.24" letter-spacing="1.16">年</tspan></text>
<text x="977.06" y="421.5"><tspan font-family='"Liberation Sans",sans-serif' font-size="19.4">2022</tspan><tspan font-family='"Noto Sans CJK SC","Liberation Sans",sans-serif' font-weight="500" font-size="18.24" letter-spacing="1.16">年</tspan></text>
<text x="1142.89" y="421.5"><tspan font-family='"Liberation Sans",sans-serif' font-size="19.4">2023</tspan><tspan font-family='"Noto Sans CJK SC","Liberation Sans",sans-serif' font-weight="500" font-size="18.24" letter-spacing="1.16">年</tspan></text>
</g>
<text x="963.5" y="163.5" text-anchor="middle" fill="#000"><tspan font-family='"Noto Sans CJK SC","Liberation Sans",sans-serif' font-weight="500" font-size="20.68" letter-spacing="1.32">中国玉米主要进口国单价变化</tspan></text>
<g font-family='"Liberation Sans","Noto Sans CJK SC",sans-serif' font-size="18.67" fill="#000">
<line x1="754.5" y1="442.3" x2="779" y2="442.3" stroke="#4F81BD" stroke-width="3" stroke-linecap="round"/>
<text x="784" y="449"><tspan font-family='"Noto Sans CJK SC","Liberation Sans",sans-serif' font-weight="500" font-size="17.55" letter-spacing="1.12">美国玉米</tspan></text>
<line x1="877.5" y1="442.3" x2="902" y2="442.3" stroke="#C0504D" stroke-width="3" stroke-linecap="round"/>
<text x="907" y="449"><tspan font-family='"Noto Sans CJK SC","Liberation Sans",sans-serif' font-weight="500" font-size="17.55" letter-spacing="1.12">乌克兰玉米</tspan></text>
<line x1="1019.5" y1="442.3" x2="1044" y2="442.3" stroke="#9BBB59" stroke-width="3" stroke-linecap="round"/>
<text x="1049" y="449"><tspan font-family='"Noto Sans CJK SC","Liberation Sans",sans-serif' font-weight="500" font-size="17.55" letter-spacing="1.12">巴西玉米</tspan></text>
</g>
<use href="#wm" x="247.9" y="544.8" width="161" height="60"/>
<path d="M162.3,507.3 A74.6,74.6 0 0 1 236.81,578.15 L199.45,580.03 A37.2,37.2 0 0 0 162.3,544.7 Z" fill="#4F81BD"/>
<path d="M236.81,578.15 A74.6,74.6 0 0 1 146.48,654.8 L154.41,618.25 A37.2,37.2 0 0 0 199.45,580.03 Z" fill="#C0504D"/>
<path d="M146.48,654.8 A74.6,74.6 0 0 1 129.27,515.01 L145.83,548.54 A37.2,37.2 0 0 0 154.41,618.25 Z" fill="#9BBB59"/>
<path d="M129.27,515.01 A74.6,74.6 0 0 1 157.62,507.45 L159.96,544.77 A37.2,37.2 0 0 0 145.83,548.54 Z" fill="#8064A2"/>
<path d="M157.62,507.45 A74.6,74.6 0 0 1 162.3,507.3 L162.3,544.7 A37.2,37.2 0 0 0 159.96,544.77 Z" fill="#F79646"/>
<circle cx="162.3" cy="581.9" r="72.1" fill="none" stroke="#000" stroke-opacity="0.07" stroke-width="5"/>
<circle cx="162.3" cy="581.9" r="73.4" fill="none" stroke="#000" stroke-opacity="0.07" stroke-width="2.4"/>
<circle cx="162.3" cy="581.9" r="38.7" fill="none" stroke="#000" stroke-opacity="0.08" stroke-width="3"/>
<g font-family='"Liberation Sans",sans-serif' font-weight="700" font-size="17.3" fill="#fff" text-anchor="middle">
<text x="200.6" y="548.1">24%</text>
<text x="198" y="630.8">29%</text>
<text x="106.8" y="594.9">39%</text>
<text x="148" y="534.2">7%</text>
<text x="186" y="526.8">1%</text>
</g>
<g font-family='"Liberation Sans",sans-serif' font-weight="700" font-size="14.2" fill="#000" text-anchor="middle">
<text x="159.9" y="582.3">2023</text>
<text x="147.7" y="598.3">1</text>
<text transform="translate(157,597.1) scale(1.75,1)">-</text>
<text x="169.8" y="598.3">11</text>
</g>
<g font-family='"Liberation Sans","Noto Sans CJK SC",sans-serif' font-size="18.67" fill="#000">
<rect x="30.2" y="478.4" width="10" height="10" fill="#4F81BD"/>
<text x="44.2" y="491.6"><tspan font-family='"Noto Sans CJK SC","Liberation Sans",sans-serif' font-weight="500" font-size="17.86" letter-spacing="1.14">乌克兰</tspan></text>
<rect x="106.5" y="478.4" width="10" height="10" fill="#C0504D"/>
<text x="120.2" y="491.6"><tspan font-family='"Noto Sans CJK SC","Liberation Sans",sans-serif' font-weight="500" font-size="17.86" letter-spacing="1.14">美国</tspan></text>
<rect x="162.6" y="478.4" width="10" height="10" fill="#9BBB59"/>
<text x="176.2" y="491.6"><tspan font-family='"Noto Sans CJK SC","Liberation Sans",sans-serif' font-weight="500" font-size="17.86" letter-spacing="1.14">巴西</tspan></text>
<rect x="219" y="478.4" width="10" height="10" fill="#8064A2"/>
<text x="232.7" y="491.6"><tspan font-family='"Noto Sans CJK SC","Liberation Sans",sans-serif' font-weight="500" font-size="17.86" letter-spacing="1.14">其他</tspan></text>
<rect x="275.1" y="478.4" width="10" height="10" fill="#F79646"/>
<text x="288.7" y="491.6"><tspan font-family='"Noto Sans CJK SC","Liberation Sans",sans-serif' font-weight="500" font-size="17.86" letter-spacing="1.14">南非</tspan></text>
</g>
<path d="M164.5,520.5 H171" stroke="#fff" stroke-width="0.8" fill="none" opacity="0.8"/>
<path d="M500.8,509.3 A74.6,74.6 0 0 1 575.4,583.9 L538,583.9 A37.2,37.2 0 0 0 500.8,546.7 Z" fill="#4F81BD"/>
<path d="M575.4,583.9 A74.6,74.6 0 1 1 491.45,509.89 L496.14,546.99 A37.2,37.2 0 1 0 538,583.9 Z" fill="#C0504D"/>
<path d="M491.45,509.89 A74.6,74.6 0 0 1 500.8,509.3 L500.8,546.7 A37.2,37.2 0 0 0 496.14,546.99 Z" fill="#8064A2"/>
<circle cx="500.8" cy="583.9" r="72.1" fill="none" stroke="#000" stroke-opacity="0.07" stroke-width="5"/>
<circle cx="500.8" cy="583.9" r="73.4" fill="none" stroke="#000" stroke-opacity="0.07" stroke-width="2.4"/>
<circle cx="500.8" cy="583.9" r="38.7" fill="none" stroke="#000" stroke-opacity="0.08" stroke-width="3"/>
<g font-family='"Liberation Sans",sans-serif' font-weight="700" font-size="17.3" fill="#fff" text-anchor="middle">
<text x="540.7" y="551.1">25%</text>
<text x="462.4" y="631.3">73%</text>
<text x="500" y="529.4">2%</text>
</g>
<g font-family='"Liberation Sans",sans-serif' font-weight="700" font-size="14.2" fill="#000" text-anchor="middle">
<text x="504.2" y="579.5">2022</text>
<text x="492" y="596">1</text>
<text transform="translate(501.3,594.8) scale(1.75,1)">-</text>
<text x="514.1" y="596">11</text>
</g>
<g font-family='"Liberation Sans","Noto Sans CJK SC",sans-serif' font-size="18.67" fill="#000">
<rect x="338.2" y="478.4" width="10" height="10" fill="#4F81BD"/>
<text x="352.2" y="491.6"><tspan font-family='"Noto Sans CJK SC","Liberation Sans",sans-serif' font-weight="500" font-size="17.86" letter-spacing="1.14">乌克兰</tspan></text>
<rect x="414.5" y="478.4" width="10" height="10" fill="#C0504D"/>
<text x="428.2" y="491.6"><tspan font-family='"Noto Sans CJK SC","Liberation Sans",sans-serif' font-weight="500" font-size="17.86" letter-spacing="1.14">美国</tspan></text>
<rect x="470.6" y="478.4" width="10" height="10" fill="#9BBB59"/>
<text x="484.2" y="491.6"><tspan font-family='"Noto Sans CJK SC","Liberation Sans",sans-serif' font-weight="500" font-size="17.86" letter-spacing="1.14">巴西</tspan></text>
<rect x="527" y="478.4" width="10" height="10" fill="#8064A2"/>
<text x="540.7" y="491.6"><tspan font-family='"Noto Sans CJK SC","Liberation Sans",sans-serif' font-weight="500" font-size="17.86" letter-spacing="1.14">其他</tspan></text>
<rect x="583.1" y="478.4" width="10" height="10" fill="#F79646"/>
<text x="596.7" y="491.6"><tspan font-family='"Noto Sans CJK SC","Liberation Sans",sans-serif' font-weight="500" font-size="17.86" letter-spacing="1.14">南非</tspan></text>
</g>
<path d="M-0.2,720.25 H1281" stroke="#000" stroke-width="3" stroke-dasharray="9.6 2.34" fill="none"/>
</svg>
<div id="box" class="abs"><ul><li style="top:8.5px"><span class="b">•</span><span class="c">中国进口美国玉米同比降</span><span class="n">55%</span><span class="c">，乌克兰玉米同比增</span><span class="n">8.3%</span><span class="c">；</span><br><span class="c">进口巴西玉米</span><span class="n">879.5</span><span class="c">万吨，占进口总量的</span><span class="n">39.6%</span><span class="c">，位居首位。</span></li><li style="top:102.7px"><span class="b">•</span><span class="c">自南非进口</span><span class="n">16.4</span><span class="c">万吨，占进口总量的</span><span class="n">0.7%</span><span class="c">，去年同期进口</span><br><span class="c">不足</span><span class="n">0.1</span><span class="c">万吨。</span></li></ul></div>
<div id="src" class="abs"><span class="c">数据来源：中国海关，博亚和讯整理</span></div>
<div id="cp1" class="abs">北京博亚和讯农牧技术有限公司版权所有，未经许可，不得抄袭或剪辑文本资料，请勿转载、转发、发表</div>
<div id="cp2" class="abs">This report is meant exclusively for our client and does not carry any right of publication and disclosure other than BOYAR communication Co., LTD</div>
</body></html>
